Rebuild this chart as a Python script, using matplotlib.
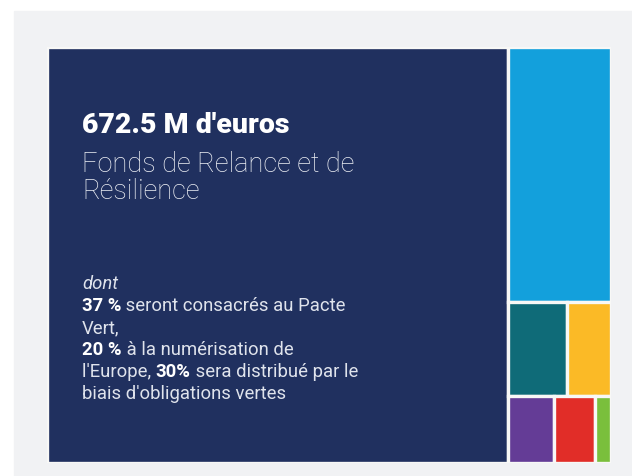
import matplotlib
matplotlib.use("Agg")
import matplotlib.pyplot as plt
from matplotlib.patches import Rectangle

plt.rcParams['font.family'] = ['Roboto', 'DejaVu Sans']

# NextGenerationEU, en milliards d'euros
labels = ["Fonds de Relance et de Résilience", "REACT-EU", "Fonds pour une transition juste",
          "Développement rural", "InvestEU", "Horizon Europe", "RescEU"]
values = [672.5, 47.5, 10, 7.5, 5.6, 5, 1.9]
colors = ["#20305f", "#13a0dc", "#0f6b78", "#fbba26", "#643c96", "#e12d28", "#7abf3c"]

headline = "672.5 M d'euros"
subtitle = ["Fonds de Relance et de", "Résilience"]
detail = [
    [("dont", "normal", "italic")],
    [("37 %", "bold", "normal"), (" seront consacrés au Pacte", "normal", "normal")],
    [("Vert,", "normal", "normal")],
    [("20 %", "bold", "normal"), (" à la numérisation de", "normal", "normal")],
    [("l'Europe, ", "normal", "normal"), ("30%", "bold", "normal"),
     (" sera distribué par le", "normal", "normal")],
    [("biais d'obligations vertes", "normal", "normal")],
]

# layout: big tile on the left, the rest stacked in rows on the right
main_share = 0.817
right_rows = [[1], [2, 3], [4, 5, 6]]

W, H = 632, 477
fig = plt.figure(figsize=(W / 100, H / 100), dpi=100, facecolor="white")
fig.patches.append(Rectangle((14 / W, 0), 1, (H - 12) / H, transform=fig.transFigure,
                             color="#f1f2f4", zorder=-5))

ax = fig.add_axes([47 / W, 13 / H, 564 / W, 416 / H])
ax.set_zorder(2)
ax.set_xlim(0, 1)
ax.set_ylim(1, 0)
ax.axis("off")

tiles = {0: (0, 0, main_share, 1)}
rest = sum(values[1:])
y = 0
for row in right_rows:
    row_sum = sum(values[i] for i in row)
    h = row_sum / rest
    x = main_share
    for i in row:
        w = (1 - main_share) * values[i] / row_sum
        tiles[i] = (x, y, w, h)
        x += w
    y += h

for i, (x, y, w, h) in tiles.items():
    ax.add_patch(Rectangle((x, y), w, h, facecolor=colors[i], edgecolor="#f8f8f6",
                           linewidth=2.4))


def px_y(py):
    return (py - 48) / 416


tx = (82 - 47) / 564
ax.text(tx, px_y(133), headline, color="white", fontsize=20.5, fontweight="black",
        va="baseline", ha="left")
for k, line in enumerate(subtitle):
    ax.text(tx, px_y(172 + 27 * k), line, color="#eef0f5", fontsize=19.5,
            fontweight="light", va="baseline", ha="left")


def rich_line(yb, parts, size=13.3):
    prev = None
    for txt, weight, style in parts:
        col = "white" if weight == "bold" else "#dfe3ec"
        if prev is None:
            prev = ax.text(tx, yb, txt, color=col, fontsize=size, fontweight=weight,
                           fontstyle=style, va="bottom", ha="left")
        else:
            prev = ax.annotate(txt, xy=(1, 0), xycoords=prev, color=col, fontsize=size,
                               fontweight=weight, fontstyle=style, va="bottom", ha="left")


for k, parts in enumerate(detail):
    rich_line(px_y(293 + 22 * k), parts)

fig.savefig("out.png", dpi=100, facecolor="white")
